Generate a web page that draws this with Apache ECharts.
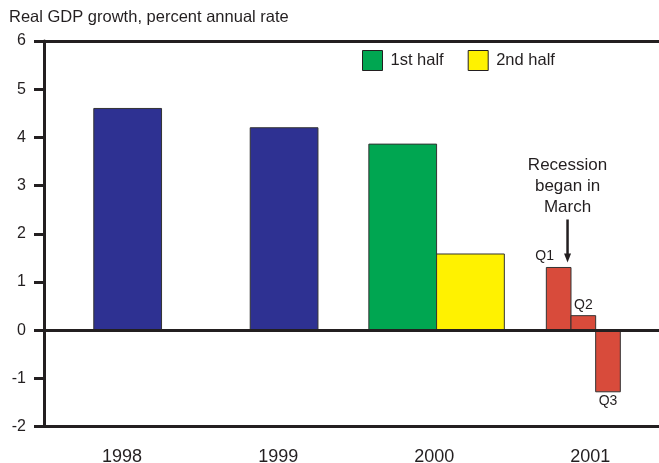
<!DOCTYPE html>
<html><head><meta charset="utf-8">
<script src="https://cdn.jsdelivr.net/npm/echarts@6/dist/echarts.min.js"></script>
<style>html,body{margin:0;padding:0;background:#fff}#c{width:659px;height:463px}</style>
</head><body><div id="c"></div>
<script>
// ---- data ----
const categories = ['1998', '1999', '2000', '2001'];
const annualYears = ['1998', '1999'];
const annualValues = [4.6, 4.2];
const halfLabels = ['1st half', '2nd half'];
const halfValues2000 = [3.86, 1.58];
const quarterLabels = ['Q1', 'Q2', 'Q3'];
const quarterValues2001 = [1.3, 0.3, -1.28];
const yMin = -2, yMax = 6, yStep = 1;
const titleText = 'Real GDP growth, percent annual rate';
const annotationText = 'Recession\nbegan in\nMarch';
const annotatedQuarter = 'Q1';

// ---- style / layout ----
const INK = '#231f20';
const FONT = '"Liberation Sans", Arial, Helvetica, sans-serif';
const COLORS = { annual: '#2E3192', first: '#00A651', second: '#FFF200', quarter: '#D84B3B' };
const groupShift = [0.036, 0.038, 0.015, -0.045];   // group centre offset, fraction of band
const WIDE = 0.434, NARROW = 0.158;                 // bar widths, fraction of band

function barRect(api, wFrac) {
  const cat = api.value(0), val = api.value(1), slot = api.value(2), n = api.value(3);
  const base = api.coord([cat, 0]);
  const top = api.coord([cat, val]);
  const band = api.size([1, 0])[0];
  const w = wFrac * band;
  const x = base[0] + band * groupShift[cat] - n * w / 2 + slot * w;
  const y = Math.min(base[1], top[1]);
  const h = Math.abs(base[1] - top[1]);
  return { x: x, y: y, width: w, height: h, up: top[1] <= base[1] };
}
function rectEl(r, color) {
  return { type: 'rect', shape: { x: r.x, y: r.y, width: r.width, height: r.height },
           style: { fill: color, stroke: '#333', lineWidth: 1 } };
}
function simpleRender(wFrac, color) {
  return function (params, api) { return rectEl(barRect(api, wFrac), color); };
}
function quarterRender(params, api) {
  const r = barRect(api, NARROW);
  const i = params.dataIndexInside;
  const label = quarterLabels[i];
  const isAnn = label === annotatedQuarter;
  const children = [rectEl(r, COLORS.quarter)];
  const lx = r.x + r.width / 2 + (isAnn ? -0.57 * r.width : 0);
  children.push({ type: 'text', style: {
    text: label, x: lx, y: r.up ? r.y - 4 : r.y + r.height + 2,
    align: 'center', verticalAlign: r.up ? 'bottom' : 'top',
    font: '14px ' + FONT, fill: INK } });
  if (isAnn) {
    const ax = r.x + 0.86 * r.width;
    children.push({ type: 'line', shape: { x1: ax, y1: r.y - 48, x2: ax, y2: r.y - 12 },
                    style: { stroke: INK, lineWidth: 2.5 } });
    children.push({ type: 'polygon', shape: { points: [[ax - 3.5, r.y - 14], [ax + 3.5, r.y - 14], [ax, r.y - 5]] },
                    style: { fill: INK } });
    children.push({ type: 'text', style: {
      text: annotationText, x: ax, y: r.y - 50, align: 'center', verticalAlign: 'bottom',
      font: '17px ' + FONT, lineHeight: 21, fill: INK } });
  }
  return { type: 'group', children: children };
}

const annualData = annualValues.map((v, i) => [categories.indexOf(annualYears[i]), v, 0, 1]);
const firstData = [[categories.indexOf('2000'), halfValues2000[0], 0, 2]];
const secondData = [[categories.indexOf('2000'), halfValues2000[1], 1, 2]];
const quarterData = quarterValues2001.map((v, i) => [categories.indexOf('2001'), v, i, quarterValues2001.length]);

const chart = echarts.init(document.getElementById('c'), null, { renderer: 'canvas' });
chart.setOption({
  animation: false,
  backgroundColor: '#fff',
  title: { text: titleText, left: 9, top: 9, padding: 0,
           textStyle: { fontSize: 16.5, fontWeight: 'normal', color: INK, fontFamily: FONT } },
  legend: { data: halfLabels, left: 362, top: 50, padding: 0, icon: 'rect',
            itemWidth: 20, itemHeight: 20, itemGap: 24,
            itemStyle: { borderColor: INK, borderWidth: 1 },
            textStyle: { fontSize: 16.5, color: INK, fontFamily: FONT, padding: [0, 0, 0, 3] } },
  grid: { left: 44, top: 41, width: 624.4, bottom: 36.5, containLabel: false, outerBoundsMode: 'none' },
  xAxis: [{
    type: 'category', data: categories, position: 'bottom',
    axisLine: { onZero: false, lineStyle: { color: INK, width: 3 } },
    axisTick: { alignWithLabel: true, length: 10, lineStyle: { color: INK, width: 3 } },
    axisLabel: { fontSize: 18, color: INK, fontFamily: FONT, margin: 22 },
    splitLine: { show: false }
  }, {
    type: 'category', data: categories, position: 'top',
    axisLine: { onZero: false, lineStyle: { color: INK, width: 3 } },
    axisTick: { show: false }, axisLabel: { show: false }, splitLine: { show: false }
  }],
  yAxis: {
    type: 'value', min: yMin, max: yMax, interval: yStep,
    axisLine: { show: true, onZero: false, lineStyle: { color: INK, width: 3 } },
    axisTick: { show: true, length: 10, lineStyle: { color: INK, width: 3 } },
    axisLabel: { fontSize: 16, color: INK, fontFamily: FONT, margin: 18 },
    splitLine: { show: false }
  },
  series: [
    { name: 'Annual', type: 'custom', renderItem: simpleRender(WIDE, COLORS.annual),
      itemStyle: { color: COLORS.annual }, encode: { x: 0, y: 1 }, data: annualData, z: 2,
      markLine: { silent: true, symbol: 'none', label: { show: false }, animation: false,
                  lineStyle: { color: INK, width: 3, type: 'solid' }, data: [{ yAxis: 0 }] } },
    { name: halfLabels[0], type: 'custom', renderItem: simpleRender(WIDE, COLORS.first),
      itemStyle: { color: COLORS.first }, encode: { x: 0, y: 1 }, data: firstData, z: 2 },
    { name: halfLabels[1], type: 'custom', renderItem: simpleRender(WIDE, COLORS.second),
      itemStyle: { color: COLORS.second }, encode: { x: 0, y: 1 }, data: secondData, z: 2 },
    { name: 'Quarterly', type: 'custom', renderItem: quarterRender,
      itemStyle: { color: COLORS.quarter }, encode: { x: 0, y: 1 }, data: quarterData, z: 2 }
  ]
});
</script></body></html>
